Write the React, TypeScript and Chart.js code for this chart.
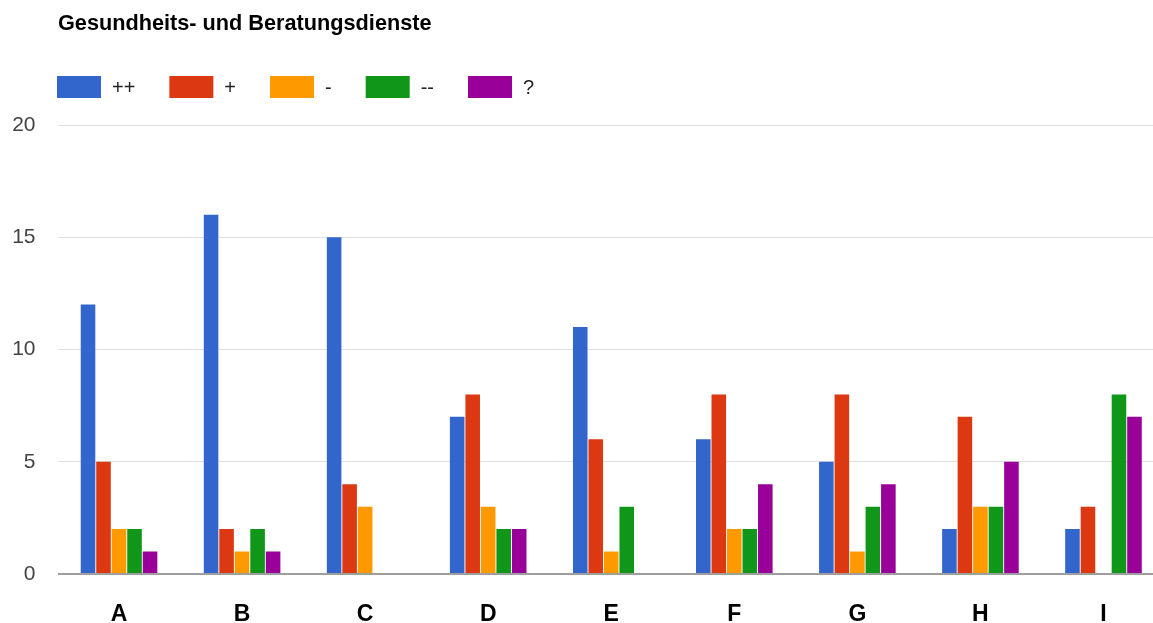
import React, { useEffect, useRef } from "react";
import { Chart, registerables } from "chart.js";

Chart.register(...registerables);

const TITLE = "Gesundheits- und Beratungsdienste";
const categories = ["A", "B", "C", "D", "E", "F", "G", "H", "I"];
const seriesNames = ["++", "+", "-", "--", "?"];
const seriesColors = ["#3366cc", "#dc3912", "#ff9900", "#109618", "#990099"];

const veryGood = [12, 16, 15, 7, 11, 6, 5, 2, 2];
const good = [5, 2, 4, 8, 6, 8, 8, 7, 3];
const bad = [2, 1, 3, 3, 1, 2, 1, 3, 0];
const veryBad = [2, 2, 0, 2, 3, 2, 3, 3, 8];
const unknown = [1, 1, 0, 2, 0, 4, 4, 5, 7];

const yTicks = [0, 5, 10, 15, 20];

const FONT = "'Liberation Sans', Arial, sans-serif";

// Title and legend row drawn above the plot area
const headerPlugin = {
  id: "header",
  afterDraw(chart: Chart) {
    const ctx = chart.ctx;
    ctx.save();
    ctx.fillStyle = "#000";
    ctx.font = `bold 21.7px ${FONT}`;
    ctx.textAlign = "left";
    ctx.textBaseline = "alphabetic";
    ctx.fillText(TITLE, 58, 30);

    ctx.font = `20px ${FONT}`;
    ctx.textBaseline = "middle";
    let x = 57;
    const boxW = 44;
    const boxH = 22;
    const boxY = 76;
    chart.data.datasets.forEach((ds: any) => {
      ctx.fillStyle = ds.backgroundColor;
      ctx.fillRect(x, boxY, boxW, boxH);
      ctx.fillStyle = "#222";
      const tx = x + boxW + 11;
      ctx.fillText(ds.label, tx, boxY + boxH / 2 + 1);
      x = tx + ctx.measureText(ds.label).width + 34;
    });
    ctx.restore();
  },
};

export default function App() {
  const canvasRef = useRef<HTMLCanvasElement | null>(null);

  useEffect(() => {
    if (!canvasRef.current) return;
    const values = [veryGood, good, bad, veryBad, unknown];
    const chart = new Chart(canvasRef.current, {
      type: "bar",
      data: {
        labels: categories,
        datasets: seriesNames.map((name, i) => ({
          label: name,
          data: values[i],
          backgroundColor: seriesColors[i],
          borderWidth: 0,
          minBarLength: 1,
          categoryPercentage: 0.63,
          barPercentage: 0.94,
        })),
      },
      options: {
        responsive: false,
        animation: false,
        layout: { padding: { top: 125, left: 12, right: 0, bottom: 2 } },
        plugins: {
          legend: { display: false },
          title: { display: false },
          tooltip: { enabled: false },
        },
        scales: {
          x: {
            grid: { display: false, drawTicks: false },
            border: { display: false },
            afterFit(scale: any) {
              scale.height = 47;
            },
            ticks: {
              padding: 29,
              color: "#000",
              font: { family: FONT, size: 23, weight: "bold", lineHeight: 1 },
            },
          },
          y: {
            min: 0,
            max: 20,
            afterBuildTicks(scale: any) {
              scale.ticks = yTicks.map((v) => ({ value: v }));
            },
            afterFit(scale: any) {
              scale.width = 45.5;
            },
            grid: {
              drawTicks: false,
              color: (c: any) => (c.tick && c.tick.value === 0 ? "#9e9e9e" : "#e0e0e0"),
              lineWidth: (c: any) => (c.tick && c.tick.value === 0 ? 2 : 1),
            },
            border: { display: false },
            ticks: {
              padding: 22,
              color: "#444",
              font: { family: FONT, size: 21 },
            },
          },
        },
      },
      plugins: [headerPlugin],
    });
    return () => chart.destroy();
  }, []);

  return (
    <div
      style={{
        position: "fixed",
        left: 0,
        top: 0,
        width: 1153,
        height: 623,
        overflow: "hidden",
        background: "#fff",
      }}
    >
      <canvas ref={canvasRef} width={1165} height={623} style={{ display: "block" }} />
    </div>
  );
}
